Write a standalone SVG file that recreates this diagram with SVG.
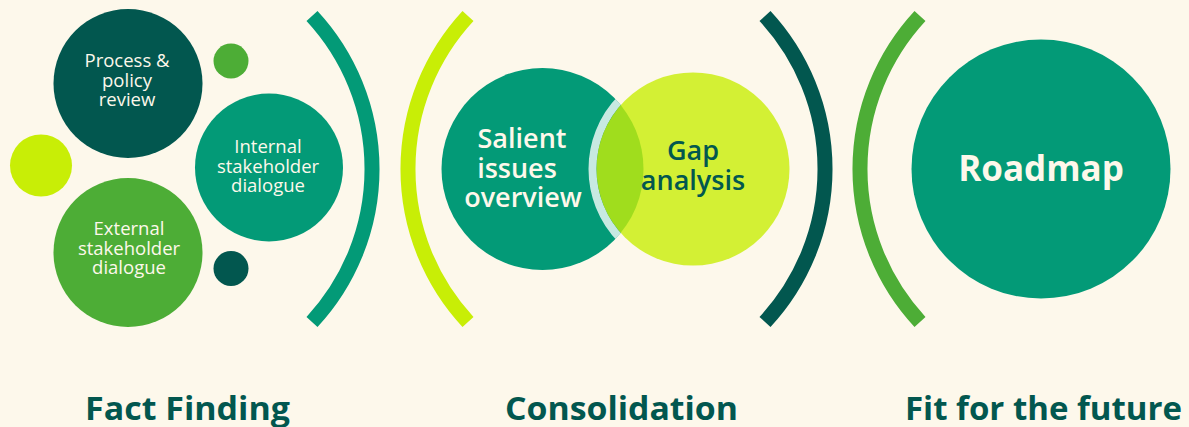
<svg xmlns="http://www.w3.org/2000/svg" width="1189" height="427" viewBox="0 0 1189 427">
<style>
.bg{fill:#FDF8EB}
.dk{fill:#02574F}
.tl{fill:#039A77}
.gr{fill:#4DAD36}
.lm{fill:#C8EE06}
.arc{fill:none;stroke-width:15;stroke-linecap:butt}
.t{font-family:"Open Sans","Liberation Sans",sans-serif;text-anchor:middle}
.sm{font-size:18.5px;font-weight:500;fill:#FDF8EB}
.md{font-size:27px;font-weight:600}
.lg{font-size:32px;font-weight:700;fill:#02574F}
</style>
<defs>
<clipPath id="salientClip"><circle cx="542.5" cy="169" r="101"/></clipPath>
</defs>
<rect class="bg" x="0" y="0" width="1189" height="427"/>
<g id="brackets">
<path class="arc" stroke="#039A77" d="M 312 16 A 225 225 0 0 1 312 322"/>
<path class="arc" stroke="#C8EE06" d="M 468 16 A 225 225 0 0 0 468 322"/>
<path class="arc" stroke="#02574F" d="M 765 16 A 225 225 0 0 1 765 322"/>
<path class="arc" stroke="#4DAD36" d="M 920 16 A 225 225 0 0 0 920 322"/>
</g>
<g id="dot-green"><circle class="gr" cx="231" cy="61" r="17.5"/></g>
<g id="dot-lime"><circle class="lm" cx="41" cy="165.5" r="31"/></g>
<g id="dot-dark"><circle class="dk" cx="231" cy="268.5" r="17.5"/></g>
<g id="process-policy-review">
<circle class="dk" cx="128" cy="83.5" r="74.5"/>
<text class="t sm"><tspan x="127" y="67">Process &amp;</tspan><tspan x="127" y="86.5">policy</tspan><tspan x="127" y="106">review</tspan></text>
</g>
<g id="internal-stakeholder-dialogue">
<circle class="tl" cx="269" cy="167.5" r="74"/>
<text class="t sm"><tspan x="268" y="153">Internal</tspan><tspan x="268" y="172.5">stakeholder</tspan><tspan x="268" y="192">dialogue</tspan></text>
</g>
<g id="external-stakeholder-dialogue">
<circle class="gr" cx="128" cy="252.5" r="74.5"/>
<text class="t sm"><tspan x="129" y="235">External</tspan><tspan x="129" y="254.5">stakeholder</tspan><tspan x="129" y="274">dialogue</tspan></text>
</g>
<g id="salient-issues-overview">
<circle class="tl" cx="542.5" cy="169" r="101"/>
<text class="t md" fill="#FDF8EB"><tspan x="522" y="148">Salient</tspan><tspan x="517" y="177.5">issues</tspan><tspan x="523" y="207">overview</tspan></text>
</g>
<g id="gap-analysis">
<circle cx="693" cy="169" r="100.5" fill="none" stroke="#FFFFFF" stroke-opacity="0.78" stroke-width="8" clip-path="url(#salientClip)"/>
<circle cx="693" cy="169" r="96.5" fill="#C8EE06" fill-opacity="0.8"/>
<text class="t md" fill="#02574F"><tspan x="693" y="160">Gap</tspan><tspan x="693" y="189.5">analysis</tspan></text>
</g>
<g id="roadmap">
<circle class="tl" cx="1041" cy="169" r="129.5"/>
<text class="t" x="1041" y="181" style="font-size:35px;font-weight:700;fill:#FDF8EB">Roadmap</text>
</g>
<g id="labels">
<text class="t lg" x="187.5" y="420" textLength="205" lengthAdjust="spacingAndGlyphs">Fact Finding</text>
<text class="t lg" x="621.5" y="420" textLength="233" lengthAdjust="spacingAndGlyphs">Consolidation</text>
<text class="t lg" x="1043.5" y="420" textLength="277" lengthAdjust="spacingAndGlyphs">Fit for the future</text>
</g>
</svg>
